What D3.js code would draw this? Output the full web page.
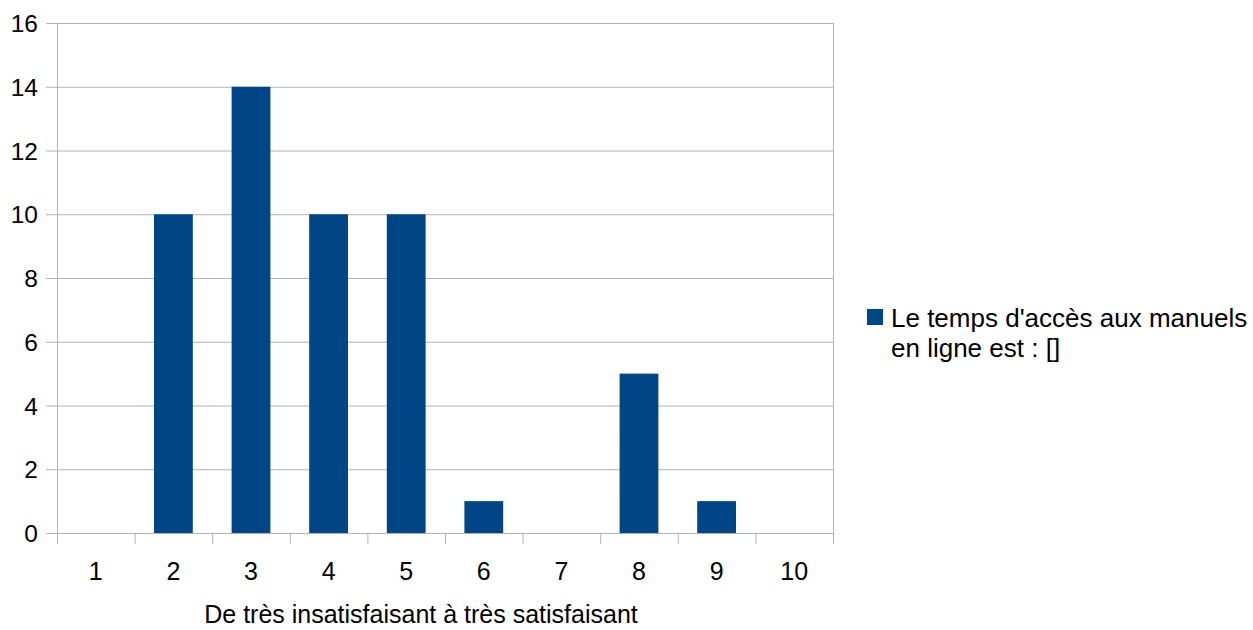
<!DOCTYPE html>
<html><head><meta charset="utf-8">
<script src="https://cdn.jsdelivr.net/npm/d3@7"></script>
<style>body{margin:0;background:#fff}svg{display:block}text{font-family:"Liberation Sans",Arial,sans-serif;fill:#000}</style>
</head><body>
<svg id="c" width="1253" height="630"></svg>
<script>
const categories = ["1","2","3","4","5","6","7","8","9","10"];
const values = [0,10,14,10,10,1,0,5,1,0];
const yTicks = [0,2,4,6,8,10,12,14,16];
const seriesName = ["Le temps d'accès aux manuels", "en ligne est : []"];
const xTitle = "De très insatisfaisant à très satisfaisant";

const svg = d3.select("#c");
const L=57, R=833, T=23, B=533;
const x = d3.scaleBand().domain(categories).range([L,R]).paddingInner(0.5).paddingOuter(0.25);
const xb = d3.scaleBand().domain(categories).range([L,R]);
const y = d3.scaleLinear().domain([0,16]).range([B,T]);
const grid="#b3b3b3", col="#004586";

// grid lines
svg.append("g").selectAll("line").data(yTicks).join("line")
  .attr("x1",L-11).attr("x2",R).attr("y1",d=>y(d)+0.5).attr("y2",d=>y(d)+0.5)
  .attr("stroke",grid).attr("stroke-width",1);
// left & right borders
svg.append("line").attr("x1",L+0.5).attr("x2",L+0.5).attr("y1",T).attr("y2",B+11).attr("stroke",grid);
svg.append("line").attr("x1",R+0.5).attr("x2",R+0.5).attr("y1",T).attr("y2",B+11).attr("stroke",grid);
// x ticks
svg.append("g").selectAll("line").data(categories.slice(1)).join("line")
  .attr("x1",d=>xb(d)+0.5).attr("x2",d=>xb(d)+0.5).attr("y1",B).attr("y2",B+11).attr("stroke",grid);

// bars
svg.append("g").selectAll("rect").data(values.map((v,i)=>({c:categories[i],v}))).join("rect")
  .attr("x",d=>x(d.c)).attr("width",x.bandwidth())
  .attr("y",d=>y(d.v)).attr("height",d=>B-y(d.v)).attr("fill",col);

// y labels
svg.append("g").selectAll("text").data(yTicks).join("text")
  .attr("x",38).attr("y",d=>y(d)+9).attr("text-anchor","end").attr("font-size",24.5).text(d=>d);
// x labels
svg.append("g").selectAll("text").data(categories).join("text")
  .attr("x",d=>xb(d)+xb.bandwidth()/2).attr("y",580).attr("text-anchor","middle").attr("font-size",25).text(d=>d);
// x title
svg.append("text").attr("x",(L+R)/2-24).attr("y",623).attr("text-anchor","middle").attr("font-size",25).text(xTitle);

// legend
svg.append("rect").attr("x",867).attr("y",309).attr("width",16).attr("height",16).attr("fill",col);
svg.append("text").attr("x",891).attr("y",327).attr("font-size",26).text(seriesName[0]);
svg.append("text").attr("x",891).attr("y",357).attr("font-size",26).text(seriesName[1]);
</script>
</body></html>
